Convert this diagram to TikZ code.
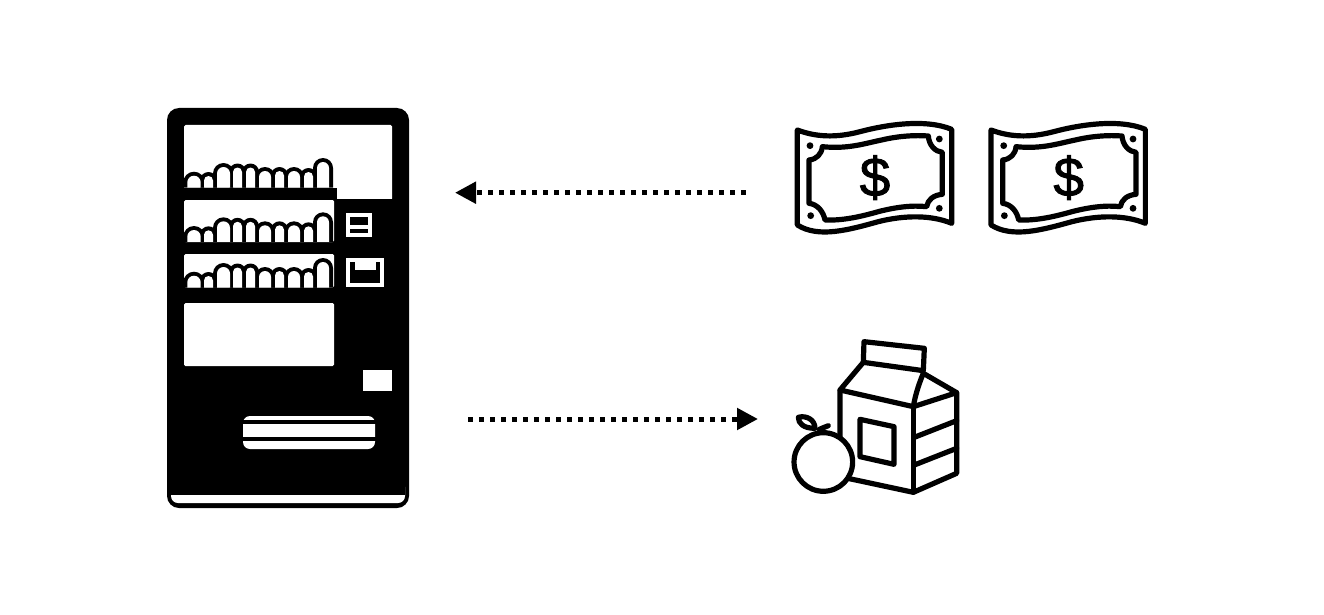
\documentclass[tikz,border=0pt]{standalone}
\usepackage{fontspec}
\setmainfont{Liberation Sans}
\newfontfamily\dollarfont[FakeBold=1.6]{Liberation Sans}
\usetikzlibrary{arrows.meta}
\tikzset{
  icon/.style={draw=black,line width=5.2pt,line cap=round,line join=round},
  flowarrow/.style={line width=5pt,dash pattern=on 5pt off 6pt,
    -{Triangle[length=21pt,width=21pt]},black},
  whitepart/.style={fill=white,rounded corners=1.5pt},
  blackpart/.style={fill=black}
}
\newcommand{\bottlerow}[1]{%
  \foreach \xa/\xb/\yt in {187.3/200.7/175.7,204/213/176,217/230/167,233/242/167.5,246/255/167.5,259/271/171,275/284/171,288/300/171,304/313/172,317/329/162}{
    \pgfmathsetmacro{\ra}{(\xb-\xa)/2+4}
    \fill[black] ({\xa-4},{187.5+#1}) [rounded corners=\ra pt] -- ({\xa-4},{\yt-4+#1}) -- ({\xb+4},{\yt-4+#1}) [sharp corners] -- ({\xb+4},{187.5+#1}) -- cycle;
  }
  \foreach \xa/\xb/\yt in {187.3/200.7/175.7,204/213/176,217/230/167,233/242/167.5,246/255/167.5,259/271/171,275/284/171,288/300/171,304/313/172,317/329/162}{
    \pgfmathsetmacro{\rb}{(\xb-\xa)/2}
    \fill[white] (\xa,{187.5+#1}) [rounded corners=\rb pt] -- (\xa,{\yt+#1}) -- (\xb,{\yt+#1}) [sharp corners] -- (\xb,{187.5+#1}) -- cycle;
  }
}
\begin{document}
\begin{tikzpicture}[x=1pt,y=-1pt]
\useasboundingbox (0,0) rectangle (1324,615);
\fill[white] (0,0) rectangle (1324,615);

% vending machine
\fill[black,rounded corners=12pt] (167,108) rectangle (409,508);
\fill[white,rounded corners=7pt] (171,480) rectangle (405,503);
\fill[black] (171,470) rectangle (405,495);
% windows
\fill[whitepart] (184,125) rectangle (392,200);
\fill[blackpart] (180,187.5) rectangle (337,199.5);
\fill[blackpart] (334,199) rectangle (392.5,201);
\fill[whitepart] (184,200) rectangle (334,242);
\fill[whitepart] (184,254) rectangle (334,287.5);
\fill[whitepart] (184,303) rectangle (334,366);
\begin{scope}
  \clip (184,125) rectangle (392,300);
  \bottlerow{0}
  \bottlerow{54.3}
  \bottlerow{100}
\end{scope}
% small panels
\fill[white] (346,213) rectangle (372,237);
\fill[blackpart] (350,217) rectangle (368,225);
\fill[blackpart] (350,229) rectangle (368,233);
\fill[white] (346,258) rectangle (384,287);
\fill[blackpart] (350,262) rectangle (380,283);
\fill[white] (355,262) rectangle (376,270);
\fill[white] (363,370) rectangle (392,391);
% slot
\fill[white,rounded corners=7pt] (243,416) rectangle (375,449);
\fill[blackpart] (240,420.3) rectangle (378,424.3);
\fill[blackpart] (240,436.8) rectangle (378,440.8);

% bills
\foreach \bx/\bn in {785/a,978.7/b}{
\begin{scope}[shift={(\bx,110)},x=0.3333pt,y=-0.3333pt]
  \draw[icon] (37,60) .. controls (90,80) and (150,85) .. (225,65)
     .. controls (300,45) and (420,25) .. (500,58) -- (500,340)
     .. controls (440,315) and (360,315) .. (280,335)
     .. controls (190,360) and (100,385) .. (37,345) -- cycle;
  \draw[icon] (112,110) .. controls (190,118) and (240,100) .. (290,90)
     .. controls (340,78) and (390,75) .. (430,78)
     .. controls (432,105) and (450,125) .. (472,127) -- (472,253)
     .. controls (445,255) and (428,270) .. (425,290)
     .. controls (380,285) and (330,292) .. (280,305)
     .. controls (220,322) and (170,332) .. (120,330)
     .. controls (115,305) and (98,283) .. (72,280) -- (72,150)
     .. controls (95,148) and (110,132) .. (112,110) -- cycle;
  \fill[black] (75,107) circle[radius=3.4pt] (463,87) circle[radius=3.4pt]
     (463,295) circle[radius=3.4pt] (77,317) circle[radius=3.4pt];
  \node[inner sep=0pt,font=\dollarfont\fontsize{55}{55}\selectfont] (dollar\bn) at (270,203) {\$};
\end{scope}}

% carton and apple
\begin{scope}[shift={(780,330)},x=0.3333pt,y=-0.3333pt]
  \draw[icon] (252,35) -- (433,55) -- (430,122) -- (250,97) -- cycle;
  \draw[icon] (250,97) -- (180,180) -- (400,230) -- (530,188) -- (430,130);
  \draw[icon] (430,130) .. controls (415,165) and (405,200) .. (400,230);
  \draw[icon] (180,180) -- (180,440) -- (400,487) -- (530,430) -- (530,188);
  \draw[icon] (400,230) -- (400,487);
  \draw[icon] (403,322) -- (530,272);
  \draw[icon] (403,405) -- (530,355);
  \draw[icon] (240,268) -- (342,290) -- (342,403) -- (240,380) -- cycle;
  \draw[icon,fill=white] (130,396) circle[radius=29.3pt];
  \draw[icon] (105,295) .. controls (70,295) and (55,280) .. (55,262)
     .. controls (80,255) and (105,270) .. (105,295) -- cycle;
  \draw[icon] (118,298) -- (145,287);
\end{scope}

% arrows
\coordinate (payfrom) at (745.5,192.7);
\coordinate (payto) at (455,192.7);
\coordinate (goodsfrom) at (468,419);
\coordinate (goodsto) at (758,419);
\draw[flowarrow] (payfrom) -- (payto);
\draw[flowarrow] (goodsfrom) -- (goodsto);
\end{tikzpicture}
\end{document}
